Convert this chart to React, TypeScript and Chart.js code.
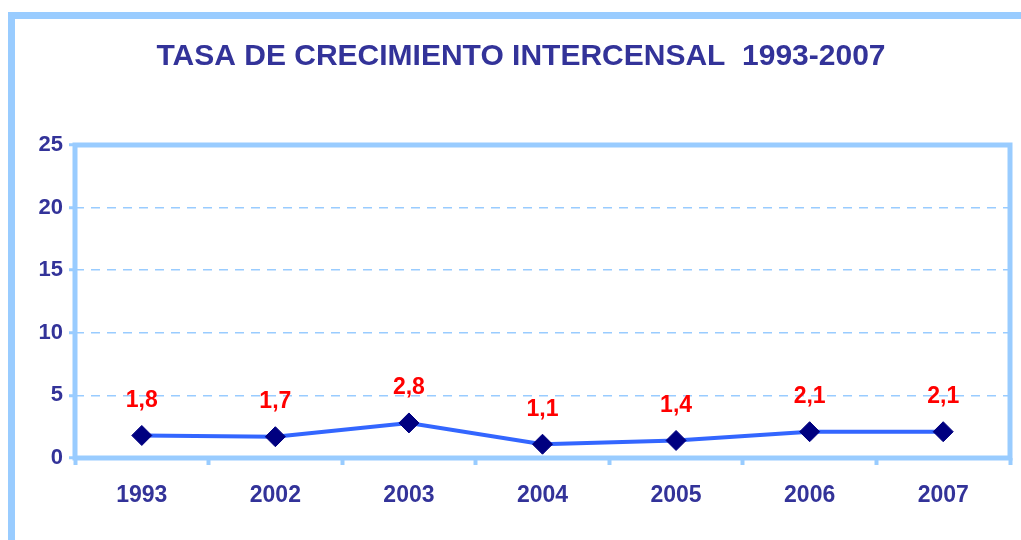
import React, { useEffect, useRef } from "react";
import { Chart, registerables } from "chart.js";

Chart.register(...registerables);

const titleText = "TASA DE CRECIMIENTO INTERCENSAL  1993-2007";
const years = ["1993", "2002", "2003", "2004", "2005", "2006", "2007"];
const rates = [1.8, 1.7, 2.8, 1.1, 1.4, 2.1, 2.1];
const yMin = 0;
const yMax = 25;
const yStep = 5;

const FRAME = "#99CCFF";
const NAVY = "#333399";
const FONT = "'Liberation Sans', Arial, sans-serif";

const framePlugin = {
  id: "framePlugin",
  beforeDraw(chart: any) {
    const { ctx } = chart;
    ctx.save();
    ctx.fillStyle = "#ffffff";
    ctx.fillRect(0, 0, chart.width, chart.height);
    ctx.strokeStyle = FRAME;
    ctx.lineWidth = 7;
    ctx.beginPath();
    ctx.moveTo(11.5, chart.height + 10);
    ctx.lineTo(11.5, 15.5);
    ctx.lineTo(chart.width + 10, 15.5);
    ctx.stroke();
    ctx.fillStyle = NAVY;
    ctx.font = `bold 30px ${FONT}`;
    ctx.textAlign = "center";
    ctx.textBaseline = "middle";
    ctx.fillText(titleText, 521, 57);
    ctx.restore();
  },
  beforeDatasetsDraw(chart: any) {
    const { ctx, chartArea } = chart;
    ctx.save();
    ctx.strokeStyle = FRAME;
    ctx.lineWidth = 5;
    ctx.strokeRect(chartArea.left, chartArea.top, chartArea.right - chartArea.left, chartArea.bottom - chartArea.top);
    ctx.restore();
  },
  afterDatasetsDraw(chart: any) {
    const { ctx } = chart;
    const meta = chart.getDatasetMeta(0);
    ctx.save();
    ctx.fillStyle = "#FF0000";
    ctx.font = `bold 23px ${FONT}`;
    ctx.textAlign = "center";
    ctx.textBaseline = "middle";
    meta.data.forEach((pt: any, i: number) => {
      const label = rates[i].toFixed(1).replace(".", ",");
      ctx.fillText(label, pt.x, pt.y - 35);
    });
    ctx.restore();
  },
};

export default function App() {
  const ref = useRef<HTMLCanvasElement>(null);
  useEffect(() => {
    if (!ref.current) return;
    const chart = new Chart(ref.current, {
      type: "line",
      data: {
        labels: years,
        datasets: [
          {
            data: rates,
            borderColor: "#3366FF",
            borderWidth: 4,
            pointStyle: "rectRot",
            pointRadius: 10,
            pointBackgroundColor: "#000080",
            pointBorderColor: "#000080",
            pointBorderWidth: 1,
            tension: 0,
          },
        ],
      },
      options: {
        responsive: false,
        animation: false,
        devicePixelRatio: 1,
        layout: { padding: { left: 0, top: 145, right: 9, bottom: 0 } },
        plugins: {
          legend: { display: false },
          title: { display: false },
          tooltip: { enabled: false },
        },
        scales: {
          x: {
            offset: true,
            grid: {
              display: true,
              drawOnChartArea: false,
              offset: true,
              tickLength: 7,
              tickWidth: 4,
              tickColor: FRAME,
            },
            border: { display: false },
            ticks: {
              color: NAVY,
              font: { family: FONT, size: 23, weight: "bold" },
              padding: 17,
              maxRotation: 0,
            },
            afterFit(scale: any) {
              scale.height = 82;
            },
          },
          y: {
            min: yMin,
            max: yMax,
            grid: {
              color: FRAME,
              lineWidth: 1.5,
              drawTicks: true,
              tickLength: 6,
              tickWidth: 3,
              tickColor: FRAME,
              tickBorderDash: [],
            },
            border: { display: false, dash: [9, 7] },
            ticks: {
              stepSize: yStep,
              color: NAVY,
              font: { family: FONT, size: 22, weight: "bold" },
              padding: 6,
            },
            afterFit(scale: any) {
              scale.width = 75;
            },
          },
        },
      },
      plugins: [framePlugin],
    });
    return () => chart.destroy();
  }, []);
  return (
    <div style={{ position: "absolute", left: 0, top: 0, width: 1021, height: 540 }}>
      <canvas ref={ref} width={1021} height={540} />
    </div>
  );
}
